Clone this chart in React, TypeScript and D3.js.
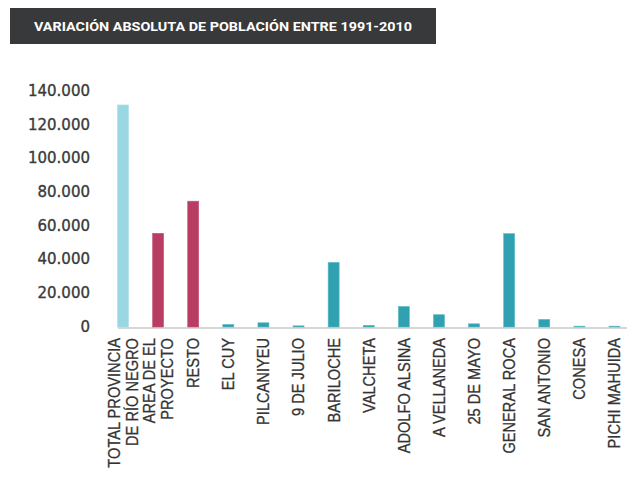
import React from "react";
import * as d3 from "d3";

const TITLE = "VARIACIÓN ABSOLUTA DE POBLACIÓN ENTRE 1991-2010";
const categories = [
  "TOTAL PROVINCIA DE RÍO NEGRO",
  "AREA DE EL PROYECTO",
  "RESTO",
  "EL CUY",
  "PILCANIYEU",
  "9 DE JULIO",
  "BARILOCHE",
  "VALCHETA",
  "ADOLFO ALSINA",
  "AVELLANEDA",
  "25 DE MAYO",
  "GENERAL ROCA",
  "SAN ANTONIO",
  "CONESA",
  "PICHI MAHUIDA",
];
const labelLines = [
  ["TOTAL PROVINCIA", "DE RÍO NEGRO"],
  ["AREA DE EL", "PROYECTO"],
  ["RESTO"],
  ["EL CUY"],
  ["PILCANIYEU"],
  ["9 DE JULIO"],
  ["BARILOCHE"],
  ["VALCHETA"],
  ["ADOLFO ALSINA"],
  ["A VELLANEDA"],
  ["25 DE MAYO"],
  ["GENERAL ROCA"],
  ["SAN ANTONIO"],
  ["CONESA"],
  ["PICHI MAHUIDA"],
];
const values = [132000, 55700, 74800, 1500, 2500, 700, 38400, 1000, 12200, 7300, 1900, 55500, 4500, 500, 500];
const groups = ["total", "area", "area", "dept", "dept", "dept", "dept", "dept", "dept", "dept", "dept", "dept", "dept", "dept", "dept"];
const yTicks = [0, 20000, 40000, 60000, 80000, 100000, 120000, 140000];

const fillColor: Record<string, string> = { total: "#99d8e2", area: "#b93d63", dept: "#30a1b1" };
const strokeColor: Record<string, string> = { total: "#aadfe8", area: "#c45575", dept: "#5cb9c6" };

const fmt = (v: number) => d3.format(",")(v).replace(/,/g, ".");

export default function App() {
  const W = 627, H = 482;
  const x = d3.scaleBand<string>().domain(categories).range([117.5, 620]).paddingInner(0.687).paddingOuter(0);
  const y = d3.scaleLinear().domain([0, 140000]).range([327, 91.5]);
  const bw = x.bandwidth();
  return (
    <svg width={W} height={H} style={{ position: "absolute", left: 0, top: 0, background: "#fff" }}>
      <rect x={10} y={8} width={426} height={36} fill="#37393b" />
      <text x={223} y={26} fill="#fff" fontFamily="Roboto" fontWeight={700} fontSize={13.5}
        textAnchor="middle" dominantBaseline="central" textLength={378} lengthAdjust="spacingAndGlyphs">{TITLE}</text>

      {yTicks.map((t) => (
        <text key={t} x={90} y={y(t) - 0.5} textAnchor="end" dominantBaseline="central"
          fontFamily="DejaVu Sans" fontSize={15} fill="#3a3a3a" stroke="#3a3a3a" strokeWidth={0.35}>{fmt(t)}</text>
      ))}

      <line x1={118} x2={627} y1={328} y2={328} stroke="#d6d6d6" strokeWidth={2} />

      {categories.map((c, i) => {
        const x0 = x(c)!;
        const y0 = y(values[i]);
        return (
          <rect key={c} x={x0} y={y0} width={bw} height={y(0) - y0}
            fill={fillColor[groups[i]]} stroke={strokeColor[groups[i]]} strokeWidth={0.6} />
        );
      })}

      {categories.map((c, i) => {
        const cx = x(c)! + bw / 2;
        const lines = labelLines[i];
        const lh = 18;
        return lines.map((ln, j) => {
          const lx = cx + (j - (lines.length - 1) / 2) * lh;
          return (
            <text key={c + j} transform={`translate(${lx},338) rotate(-90) scale(0.86,1)`}
              textAnchor="end" dominantBaseline="central" fontFamily="'Liberation Sans', Arial, sans-serif"
              fontSize={17} fill="#333" stroke="#333" strokeWidth={0.3}>{ln}</text>
          );
        });
      })}
    </svg>
  );
}
